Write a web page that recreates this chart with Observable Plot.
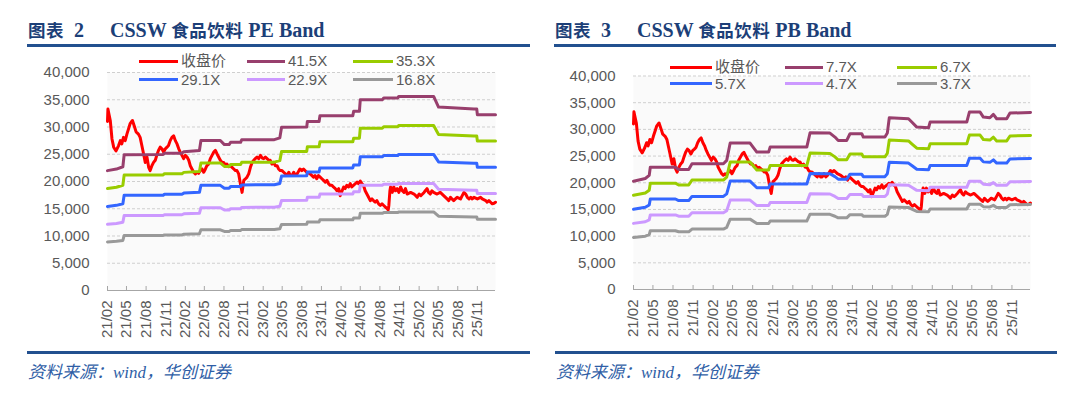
<!DOCTYPE html>
<html><head><meta charset="utf-8">
<script src="https://cdn.jsdelivr.net/npm/d3@7"></script>
<script src="https://cdn.jsdelivr.net/npm/@observablehq/plot@0.6"></script>
<style>
body{margin:0;background:#fff;}
#page{position:relative;width:1080px;height:397px;overflow:hidden;background:#fff;font-family:"Liberation Sans",Arial,"Noto Sans CJK SC",sans-serif;}
.title{position:absolute;font-family:"Liberation Serif","Times New Roman","Noto Sans CJK SC",serif;font-weight:bold;font-size:20px;line-height:20px;color:#1c3f78;white-space:nowrap;}
.title .cj{font-family:"Noto Sans CJK SC",serif;font-size:17.5px;letter-spacing:0.5px;}
.rule{position:absolute;height:3px;background:#22508f;}
.src{position:absolute;font-family:"Liberation Serif","Noto Sans CJK SC",serif;font-style:italic;font-size:17px;line-height:20px;color:#2f5ea6;white-space:nowrap;}
.chart{position:absolute;top:50px;}
.leg{position:absolute;height:18px;line-height:18px;font-size:15px;color:#595959;white-space:nowrap;}
.leg i{position:absolute;left:0;top:7.5px;height:3px;}
.leg span{position:absolute;top:0;}
</style></head>
<body>
<div id="page">
  <div class="title" style="left:28px;top:20px"><span class="cj">图表</span>&nbsp;&nbsp;2</div>
  <div class="title" style="left:110px;top:20px">CSSW <span class="cj">食品饮料</span> PE Band</div>
  <div class="rule" style="left:27px;top:44px;width:503px"></div>
  <div id="pe" class="chart" style="left:0px"></div>
  <div class="rule" style="left:27px;top:351px;width:503px"></div>
  <div class="src" style="left:28px;top:363px">资料来源：wind，华创证券</div>

  <div class="title" style="left:555px;top:20px"><span class="cj">图表</span>&nbsp;&nbsp;3</div>
  <div class="title" style="left:637px;top:20px">CSSW <span class="cj">食品饮料</span> PB Band</div>
  <div class="rule" style="left:554px;top:44px;width:502px"></div>
  <div id="pb" class="chart" style="left:540px"></div>
  <div class="rule" style="left:555px;top:351px;width:502px"></div>
  <div class="src" style="left:556px;top:363px">资料来源：wind，华创证券</div>
</div>
<script>
// ---------- data ----------
const closeLabel = "收盘价";
const closeColor = "#ff0000";
const closeDates = [
"2021-02-01","2021-02-03","2021-02-06","2021-02-14","2021-02-22","2021-03-02","2021-03-13","2021-03-25","2021-04-02","2021-04-09",
"2021-04-17","2021-04-25","2021-05-03","2021-05-11","2021-05-18","2021-05-29","2021-06-08","2021-06-15","2021-06-26","2021-07-04",
"2021-07-12","2021-07-20","2021-07-28","2021-08-05","2021-08-13","2021-08-20","2021-08-28","2021-09-05","2021-09-13","2021-09-20",
"2021-09-28","2021-10-06","2021-10-14","2021-10-22","2021-10-30","2021-11-07","2021-11-14","2021-11-22","2021-11-30","2021-12-08",
"2021-12-16","2021-12-24","2022-01-01","2022-01-08","2022-01-16","2022-01-24","2022-02-01","2022-02-09","2022-02-17","2022-02-24",
"2022-03-04","2022-03-12","2022-03-20","2022-03-27","2022-04-04","2022-04-12","2022-04-20","2022-04-28","2022-05-06","2022-05-13",
"2022-05-21","2022-05-29","2022-06-06","2022-06-14","2022-06-22","2022-06-29","2022-07-07","2022-07-15","2022-07-23","2022-07-31",
"2022-08-08","2022-08-15","2022-08-23","2022-08-31","2022-09-08","2022-09-16","2022-09-24","2022-10-01","2022-10-09","2022-10-17",
"2022-10-25","2022-11-02","2022-11-10","2022-11-17","2022-11-25","2022-12-03","2022-12-11","2022-12-19","2022-12-26","2023-01-03",
"2023-01-11","2023-01-19","2023-01-27","2023-02-03","2023-02-11","2023-02-19","2023-02-27","2023-03-06","2023-03-14","2023-03-22",
"2023-03-30","2023-04-07","2023-04-14","2023-04-22","2023-04-30","2023-05-08","2023-05-16","2023-05-24","2023-06-01","2023-06-08",
"2023-06-16","2023-06-24","2023-07-02","2023-07-10","2023-07-23","2023-08-01","2023-08-09","2023-08-24","2023-09-09","2023-09-25",
"2023-10-02","2023-10-10","2023-10-18","2023-10-26","2023-11-03","2023-11-11","2023-11-19","2023-11-27","2023-12-04","2023-12-12",
"2023-12-20","2023-12-27","2024-01-05","2024-01-13","2024-01-21","2024-01-28","2024-02-06","2024-02-13","2024-02-20","2024-02-28",
"2024-03-07","2024-03-15","2024-03-22","2024-03-30","2024-04-08","2024-04-16","2024-04-23","2024-05-01","2024-05-09","2024-05-16",
"2024-05-24","2024-06-01","2024-06-09","2024-06-17","2024-06-25","2024-07-02","2024-07-10","2024-07-18","2024-07-26","2024-08-03",
"2024-08-11","2024-08-19","2024-08-27","2024-09-04","2024-09-09","2024-09-12","2024-09-17","2024-09-20","2024-09-28","2024-10-05",
"2024-10-13","2024-10-21","2024-10-29","2024-11-06","2024-11-14","2024-11-22","2024-11-29","2024-12-07","2024-12-23","2025-01-08",
"2025-01-16","2025-01-23","2025-02-01","2025-02-09","2025-02-17","2025-02-24","2025-03-02","2025-03-10","2025-03-17","2025-03-25",
"2025-04-02","2025-04-10","2025-04-26","2025-05-11","2025-05-27","2025-06-12","2025-06-20","2025-06-28","2025-07-05","2025-07-13",
"2025-07-21","2025-07-29","2025-08-14","2025-08-22","2025-08-30","2025-09-07","2025-09-15","2025-09-23","2025-10-01","2025-10-08",
"2025-10-16","2025-11-01","2025-11-16","2025-11-24","2025-12-10","2025-12-17","2025-12-25","2026-01-02","2026-01-10","2026-01-18",
"2026-01-25"];
const closeValues = [
31000,33300,32700,31200,27800,26300,25600,26600,27500,26900,
28100,27500,28700,29700,30600,31200,30000,29100,28700,28100,
26600,25100,23500,24500,22600,22000,22900,23500,23900,24800,
25700,26300,26000,25400,26000,26300,26600,27500,28100,28400,
27500,26900,26000,25400,24800,24200,24800,24500,23900,22900,
22300,21700,21400,21700,21500,22000,22300,21700,22300,22900,
23200,24200,24800,25400,25700,25100,24500,23900,23500,23500,
23000,23200,22700,22900,22600,22300,22000,22000,21400,19600,
18000,20200,20500,20800,21400,22600,23500,23900,24200,24500,
24200,24800,24300,24200,24500,24200,23900,23900,23200,23500,
22900,22900,22300,22000,22000,21700,21400,21100,21700,21100,
21100,21700,21100,21400,22300,22000,22300,21700,21400,20800,
21100,20500,21100,20800,20500,20200,19900,20200,19600,19300,
19300,19000,18700,18300,18700,17400,18300,19000,18700,19300,
19000,19600,19000,19300,19600,19900,19600,20100,19600,19300,
18300,17700,17100,16500,16800,16500,16200,16500,15900,15600,
15900,15600,15300,15000,14800,15600,18300,19000,18000,19000,
18300,18700,18000,19000,18300,18000,18700,17700,18000,17700,
17400,17100,17700,17400,17700,18000,18300,18700,18000,17700,
18300,18000,17700,18000,17400,16800,16500,17100,16800,16500,
16800,17100,16800,17400,18000,17700,17100,16800,17100,16800,
17100,16800,17100,16800,16500,16200,16500,16200,15900,16000,
16200];

// PE band: trailing earnings per index point (read as 41.5X line / 41.5)
const peEpsDates = ["2021-02-01","2021-03-15","2021-04-14","2021-04-20","2021-10-20","2021-10-26","2022-01-16","2022-01-25","2022-04-08","2022-04-15",
"2022-07-15","2022-08-03","2022-08-25","2022-09-01","2022-10-18","2022-10-23","2023-03-25","2023-04-20","2023-04-28","2023-08-24",
"2023-08-27","2023-10-21","2023-10-25","2024-03-27","2024-03-31","2024-04-27","2024-05-01","2024-08-12","2024-08-19","2024-10-24",
"2024-10-28","2025-04-10","2025-05-03","2025-10-16","2025-10-29","2025-11-01","2026-01-25"];
const peEps = [530,537,547,600,601,607,607,614,619,663,
663,645,645,655,655,666,667,675,722,723,
747,747,773,773,792,792,843,843,851,851,
858,858,811,803,803,777,777];
const peMultiples = [41.5, 35.3, 29.1, 22.9, 16.8];

// PB band: book value per index point (read as 7.7X line / 7.7)
const pbBpsDates = ["2021-02-01","2021-03-27","2021-04-14","2021-04-19","2021-08-12","2021-08-27","2021-10-12","2021-10-27","2022-03-20","2022-04-04",
"2022-04-20","2022-07-20","2022-08-20","2022-10-13","2022-10-20","2023-04-06","2023-04-21","2023-07-21","2023-08-13","2023-08-28",
"2023-10-06","2023-10-21","2023-12-14","2023-12-21","2024-03-29","2024-04-09","2024-04-18","2024-07-15","2024-07-30","2024-08-22",
"2024-10-15","2024-10-22","2025-04-08","2025-04-20","2025-06-08","2025-06-23","2025-07-23","2025-08-08","2025-08-23","2025-10-08",
"2025-10-23","2026-01-25"];
const pbBps = [2636,2701,2776,2974,2974,2922,2922,3060,3060,3142,
3563,3563,3344,3344,3465,3465,3814,3806,3709,3627,
3627,3790,3790,3709,3709,3806,4179,4155,4074,3952,
3936,4074,4074,4317,4317,4195,4179,4260,4155,4155,
4292,4309];
const pbMultiples = [7.7, 6.7, 5.7, 4.7, 3.7];

const bandColors = ["#983f6d", "#99cc00", "#3366ff", "#cc99ff", "#999999"];
const xTickLabels = ["21/02","21/05","21/08","21/11","22/02","22/05","22/08","22/11","23/02","23/05",
"23/08","23/11","24/02","24/05","24/08","24/11","25/02","25/05","25/08","25/11"];
const xDomainDates = ["2021-02-01", "2026-01-25"];
const yTicks = [0, 5000, 10000, 15000, 20000, 25000, 30000, 35000, 40000];

// ---------- build ----------
const parseDay = d3.utcParse("%Y-%m-%d");
const parseTick = d3.utcParse("%y/%m");
const closeData = closeDates.map((d, i) => ({date: parseDay(d), value: closeValues[i]}));
const xTicks = xTickLabels.map(parseTick);
const xDomain = xDomainDates.map(parseDay);

function bandSeries(dates, base, multiples) {
  return multiples.map(m => dates.map((d, i) => ({date: parseDay(d), value: base[i] * m})));
}

function makeChart(el, bands, m) {
  const svg = Plot.plot({
    width: 540, height: 300,
    marginLeft: m.left, marginRight: m.right, marginTop: m.top, marginBottom: m.bottom,
    x: {type: "utc", domain: xDomain},
    y: {domain: [0, 40000]},
    style: {fontFamily: '"Liberation Sans", Arial, sans-serif', fontSize: "15px", background: "transparent", overflow: "visible"},
    marks: [
      Plot.frame({fill: "#fafafa", stroke: "none"}),
      Plot.gridY(yTicks.filter(d => d > 0), {stroke: "#cfcfcf", strokeOpacity: 1, strokeDasharray: "3,2"}),
      Plot.ruleY([0], {stroke: "#a6a6a6", strokeWidth: 1}),
      Plot.axisY(yTicks, {tickSize: 0, tickPadding: m.ypad, tickFormat: d3.format(","), label: null, color: "#595959"}),
      Plot.axisX(xTicks, {tickSize: -4, tickPadding: 14, tickRotate: -90, tickFormat: d3.utcFormat("%y/%m"), label: null, stroke: "#a6a6a6", fill: "#595959"}),
      Plot.line(closeData, {x: "date", y: "value", stroke: closeColor, strokeWidth: 3, strokeLinejoin: "round"}),
      ...bands.map((b, i) => Plot.line(b, {x: "date", y: "value", stroke: bandColors[i], strokeWidth: 3, strokeLinejoin: "round"}))
    ]
  });
  el.appendChild(svg);
}

makeChart(document.getElementById("pe"), bandSeries(peEpsDates, peEps, peMultiples),
  {left: 107, right: 45, top: 22, bottom: 60, ypad: 18});
makeChart(document.getElementById("pb"), bandSeries(pbBpsDates, pbBps, pbMultiples),
  {left: 93, right: 50, top: 25.5, bottom: 61, ypad: 18});

// ---------- legends ----------
function legend(labels, colors, cols, rows) {
  const page = document.getElementById("page");
  labels.forEach((lab, i) => {
    const c = i % 3, r = Math.floor(i / 3);
    const div = document.createElement("div");
    div.className = "leg";
    div.style.left = cols[c].sw + "px";
    div.style.top = (rows[r] - 9) + "px";
    const sw = document.createElement("i");
    sw.style.width = (cols[c].tx - cols[c].sw - 3) + "px";
    sw.style.background = colors[i];
    const t = document.createElement("span");
    t.style.left = (cols[c].tx - cols[c].sw) + "px";
    t.textContent = lab;
    div.appendChild(sw); div.appendChild(t);
    page.appendChild(div);
  });
}
legend([closeLabel, ...peMultiples.map(m => m.toFixed(1) + "X")], [closeColor, ...bandColors],
  [{sw: 139, tx: 181}, {sw: 247, tx: 288}, {sw: 353, tx: 396}], [61, 79.5]);
legend([closeLabel, ...pbMultiples.map(m => m.toFixed(1) + "X")], [closeColor, ...bandColors],
  [{sw: 670, tx: 715}, {sw: 785, tx: 826}, {sw: 897, tx: 940}], [67, 83.5]);
</script>
</body></html>
